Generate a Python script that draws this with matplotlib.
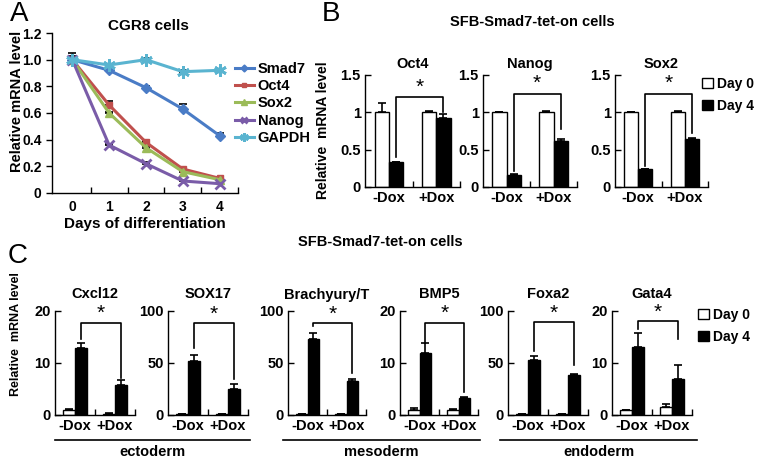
import matplotlib
matplotlib.use("Agg")
import matplotlib.pyplot as plt
from matplotlib.patches import Patch
from matplotlib.lines import Line2D
import numpy as np

plt.rcParams['font.family'] = ['Liberation Sans', 'DejaVu Sans']
plt.rcParams['font.weight'] = 'bold'
plt.rcParams['axes.labelweight'] = 'bold'
plt.rcParams['axes.linewidth'] = 1.0

W, H = 762, 458

# ---------------- Panel A data ----------------
days = [0, 1, 2, 3, 4]
a_series = ["Smad7", "Oct4", "Sox2", "Nanog", "GAPDH"]
smad7 = [1.00, 0.92, 0.79, 0.63, 0.43]
oct4_a = [1.00, 0.66, 0.38, 0.18, 0.11]
sox2_a = [1.00, 0.60, 0.34, 0.16, 0.10]
nanog_a = [1.00, 0.36, 0.22, 0.09, 0.07]
gapdh = [1.00, 0.96, 1.00, 0.91, 0.92]
smad7_err = [0.05, 0.01, 0.01, 0.04, 0.02]
oct4_a_err = [0.03, 0.03, 0.01, 0.01, 0.01]
sox2_a_err = [0.02, 0.01, 0.01, 0.01, 0.01]
nanog_a_err = [0.02, 0.01, 0.01, 0.01, 0.01]
gapdh_err = [0.02, 0.01, 0.01, 0.01, 0.01]
a_colors = ["#4a7cc6", "#c0504d", "#9bbb59", "#7a5ca8", "#5ab4d0"]

# ---------------- Panel B data ----------------
groups = ["-Dox", "+Dox"]
b_genes = ["Oct4", "Nanog", "Sox2"]
b_day0 = [[1.00, 1.00], [1.00, 1.00], [1.00, 1.00]]
b_day0_err = [[0.13, 0.02], [0.00, 0.02], [0.00, 0.02]]
b_day4 = [[0.33, 0.93], [0.16, 0.61], [0.24, 0.64]]
b_day4_err = [[0.01, 0.05], [0.01, 0.03], [0.00, 0.01]]
b_bracket = [[0.40, 1.20, 1.00], [0.22, 1.25, 0.78], [0.28, 1.25, 0.72]]

# ---------------- Panel C data ----------------
c_genes = ["Cxcl12", "SOX17", "Brachyury/T", "BMP5", "Foxa2", "Gata4"]
c_ymax = [20, 100, 100, 20, 100, 20]
c_day0 = [[1.0, 0.2], [1.0, 0.5], [1.0, 0.5], [1.0, 1.0], [0.5, 0.5], [1.0, 1.6]]
c_day0_err = [[0.2, 0.1], [0.3, 0.2], [0.2, 0.2], [0.3, 0.2], [0.2, 0.2], [0.0, 0.6]]
c_day4 = [[12.8, 5.8], [52, 25], [73, 33], [12.0, 3.3], [53, 38], [13.0, 6.9]]
c_day4_err = [[1.1, 1.0], [6, 5], [6, 2], [1.8, 0.2], [4, 1.5], [2.8, 2.7]]
c_bracket = [[14.6, 17.7, 7.2], [64, 88, 35], [86, 88, 40],
             [13.8, 17.7, 4.4], [62, 89, 48], [16.6, 18.0, 14.7]]
layers = ["ectoderm", "mesoderm", "endoderm"]

fig = plt.figure(figsize=(W / 100, H / 100), dpi=100)


def px_axes(l, t, r, b):
    return fig.add_axes([l / W, 1 - b / H, (r - l) / W, (b - t) / H])


def ftext(x, y, s, **kw):
    fig.text(x / W, 1 - y / H, s, **kw)


# ================= Panel A =================
axA = px_axes(52, 33, 238, 193)
a_vals = [smad7, oct4_a, sox2_a, nanog_a, gapdh]
a_errs = [smad7_err, oct4_a_err, sox2_a_err, nanog_a_err, gapdh_err]
a_markers = ["D", "s", "^", "x", (6, 2, 0)]
a_msize = [5, 5, 6, 7, 9]
for name, vals, errs, col, mk, ms in zip(a_series, a_vals, a_errs, a_colors, a_markers, a_msize):
    axA.errorbar(days, vals, yerr=[np.zeros(len(errs)), errs], fmt="none",
                 ecolor="black", elinewidth=1.0, capsize=3, capthick=1.2, zorder=2)
    axA.plot(days, vals, color=col, lw=2.2, marker=mk, ms=ms,
             mew=2 if (mk == "x" or isinstance(mk, tuple)) else 1,
             mec=col, mfc=col, label=name, zorder=3)
axA.set_xlim(-0.55, 4.5)
axA.set_ylim(0, 1.2)
axA.set_yticks([0, 0.2, 0.4, 0.6, 0.8, 1.0, 1.2])
axA.set_yticklabels(["0", "0.2", "0.4", "0.6", "0.8", "1.0", "1.2"])
axA.set_xticks(days)
axA.set_xticks([0.5, 1.5, 2.5, 3.5, 4.5], minor=True)
axA.tick_params(axis="x", which="major", length=0, labelsize=10, pad=5)
axA.tick_params(axis="x", which="minor", direction="in", length=4, width=1)
axA.tick_params(axis="y", direction="out", length=4, width=1, labelsize=10)
for s in ["top", "right"]:
    axA.spines[s].set_visible(False)
axA.set_xlabel("Days of differentiation", fontsize=11, labelpad=2)
ftext(17, 101, "Relative mRNA level", fontsize=10.5, rotation=90, ha="center", va="center")
ftext(148, 26, "CGR8 cells", fontsize=11, ha="center", va="center")
axA.legend(loc="upper left", bbox_to_anchor=(235 / W, 1 - 62 / H), bbox_transform=fig.transFigure,
           frameon=False, handlelength=1.3, handletextpad=0.25, labelspacing=0.22, numpoints=1,
           borderpad=0, borderaxespad=0,
           prop={"size": 10.5, "weight": "bold"}, markerscale=0.7)

ftext(10, 14, "A", fontsize=20, fontweight="normal", va="center", ha="left")
ftext(322, 14, "B", fontsize=20, fontweight="normal", va="center", ha="left")
ftext(8, 256, "C", fontsize=20, fontweight="normal", va="center", ha="left")

bw = 0.3
x = np.arange(2)


def bar_panel(ax, d0, d0e, d4, d4e, ymax, br, star_y):
    ax.bar(x - bw / 2, d0, bw, color="white", edgecolor="black", lw=1.0, zorder=2)
    ax.bar(x + bw / 2, d4, bw, color="black", edgecolor="black", lw=1.0, zorder=2)
    ax.errorbar(x - bw / 2, d0, yerr=[np.zeros(2), d0e], fmt="none", ecolor="black",
                elinewidth=1.2, capsize=3, capthick=1.2, zorder=3)
    ax.errorbar(x + bw / 2, d4, yerr=[np.zeros(2), d4e], fmt="none", ecolor="black",
                elinewidth=1.2, capsize=3, capthick=1.2, zorder=3)
    lx, rx = bw / 2, 1 + bw / 2
    ax.plot([lx, lx, rx, rx], [br[0], br[1], br[1], br[2]], color="black", lw=1.2,
            clip_on=False, zorder=4)
    ax.text(0.5 + bw / 2, star_y, "*", ha="center", va="center", fontsize=15,
            fontweight="normal", clip_on=False)
    ax.set_xlim(-0.5, 1.5)
    ax.set_ylim(0, ymax)
    ax.set_xticks(x)
    ax.set_xticklabels(groups)
    ax.set_xticks([0.5, 1.5], minor=True)
    ax.tick_params(axis="x", which="major", length=0, labelsize=10.5, pad=3)
    ax.tick_params(axis="x", which="minor", direction="in", length=4, width=1)
    ax.tick_params(axis="y", direction="in", length=4, width=1, labelsize=10.5, pad=3)
    for s in ["top", "right"]:
        ax.spines[s].set_visible(False)


# ================= Panel B =================
b_pos = [(365, 460), (483, 577), (615, 708)]
for i, (l, r) in enumerate(b_pos):
    ax = px_axes(l, 75, r, 187)
    bar_panel(ax, b_day0[i], b_day0_err[i], b_day4[i], b_day4_err[i], 1.5, b_bracket[i],
              b_bracket[i][1] + 0.14)
    ax.set_yticks([0, 0.5, 1, 1.5])
    ax.set_yticklabels(["0", "0.5", "1", "1.5"])
    ax.set_title(b_genes[i], fontsize=10.5, fontweight="bold", pad=5)

ftext(323, 130, "Relative  mRNA level", fontsize=10, rotation=90, ha="center", va="center")
ftext(532, 22, "SFB-Smad7-tet-on cells", fontsize=10.5, ha="center", va="center")
fig.legend(handles=[Patch(facecolor="white", edgecolor="black", label="Day 0"),
                    Patch(facecolor="black", edgecolor="black", label="Day 4")],
           loc="upper left", bbox_to_anchor=(702 / W, 1 - 77 / H), frameon=False,
           handlelength=0.8, handleheight=0.8, handletextpad=0.3, labelspacing=0.55,
           borderpad=0, borderaxespad=0,
           prop={"size": 10, "weight": "bold"})

# ================= Panel C =================
c_pos = [(55, 135), (168, 248), (288, 366), (400, 478), (508, 588), (612, 692)]
for i, (l, r) in enumerate(c_pos):
    ax = px_axes(l, 311, r, 415)
    ym = c_ymax[i]
    bar_panel(ax, c_day0[i], c_day0_err[i], c_day4[i], c_day4_err[i], ym, c_bracket[i],
              c_bracket[i][1] + 0.09 * ym)
    ax.set_yticks([0, ym / 2, ym])
    ax.set_yticklabels([str(int(v)) for v in [0, ym / 2, ym]])
    ax.set_title(c_genes[i], fontsize=10.5, fontweight="bold", pad=9)

ftext(16, 334, "Relative  mRNA level", fontsize=9, rotation=90, ha="center", va="center")
ftext(380, 242, "SFB-Smad7-tet-on cells", fontsize=10.5, ha="center", va="center")
fig.legend(handles=[Patch(facecolor="white", edgecolor="black", label="Day 0"),
                    Patch(facecolor="black", edgecolor="black", label="Day 4")],
           loc="upper left", bbox_to_anchor=(698 / W, 1 - 308 / H), frameon=False,
           handlelength=0.8, handleheight=0.8, handletextpad=0.3, labelspacing=0.55,
           borderpad=0, borderaxespad=0,
           prop={"size": 10, "weight": "bold"})

layer_spans = [(55, 250), (283, 480), (500, 697)]
for name, (l, r) in zip(layers, layer_spans):
    fig.add_artist(Line2D([l / W, r / W], [1 - 440 / H, 1 - 440 / H], color="black", lw=1.2))
    ftext((l + r) / 2, 452, name, fontsize=10.5, ha="center", va="center")

fig.savefig("out.png", dpi=100)
